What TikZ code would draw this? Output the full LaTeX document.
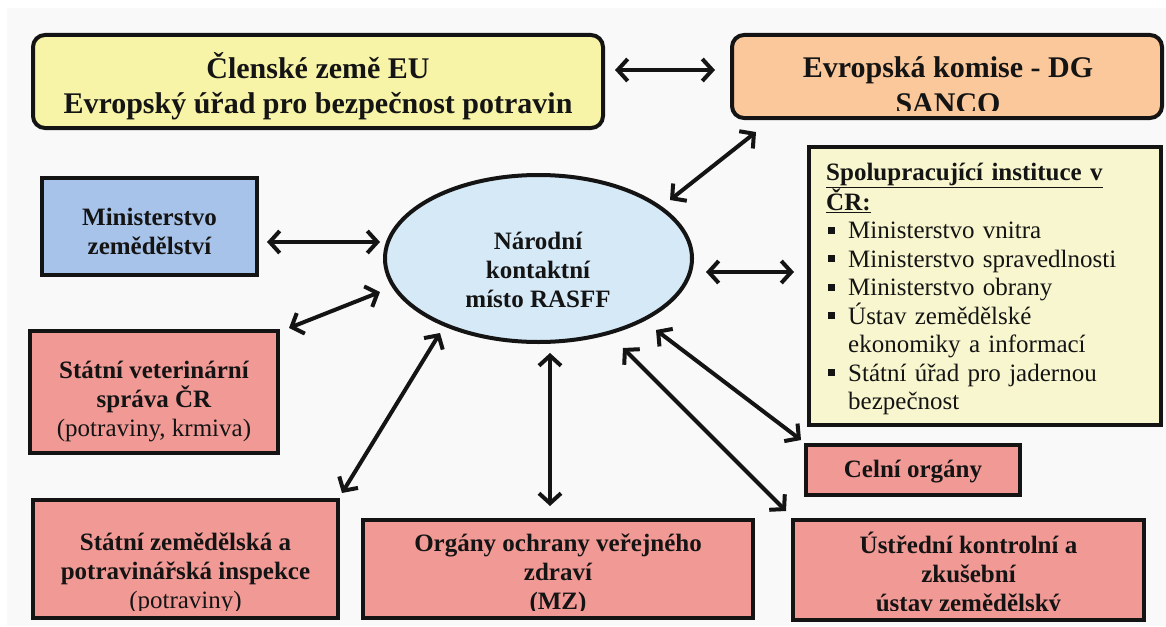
\documentclass[tikz,border=0pt]{standalone}
\usepackage{fontspec}
\setmainfont{Liberation Serif}
\usetikzlibrary{arrows.meta,shapes.geometric}
\definecolor{bgc}{RGB}{249,249,249}
\definecolor{yelc}{RGB}{247,244,168}
\definecolor{orac}{RGB}{250,200,155}
\definecolor{bluc}{RGB}{168,195,234}
\definecolor{ellc}{RGB}{214,233,247}
\definecolor{pinc}{RGB}{240,153,149}
\definecolor{spoc}{RGB}{248,246,206}
\definecolor{inkc}{RGB}{20,20,20}
\newcommand\sqbul{\makebox[22pt][l]{\hspace{2pt}\raisebox{5pt}{\rule{7pt}{7pt}}}}
\tikzset{
  box/.style={draw=inkc, line width=4pt, inner sep=0pt},
  pinkbox/.style={box, fill=pinc},
  bigtxt/.style={font=\fontsize{30}{35.5}\selectfont\bfseries, align=center, inner sep=0pt, text=inkc},
  txtb/.style={font=\fontsize{25}{29}\selectfont\bfseries, align=center, inner sep=0pt, text=inkc},
  link/.style={draw=inkc, line width=4pt, >={Straight Barb[length=10pt,width=22pt]}, <->}
}
\begin{document}
\begin{tikzpicture}[x=1pt,y=-1pt]
\useasboundingbox (0,0) rectangle (1166,626);
\fill[white] (0,0) rectangle (1166,626);
\fill[bgc] (7,8) rectangle (1166,626);

% top boxes
\node[box, rounded corners=12pt, fill=yelc, minimum width=570pt, minimum height=93pt] (eu) at (318,81.5) {};
\node[bigtxt] (eut) at (318,86) {Členské země EU\\Evropský úřad pro bezpečnost potravin};

\node[box, rounded corners=12pt, fill=orac, minimum width=430pt, minimum height=83pt] (sanco) at (947,76.5) {};
\begin{scope}
\clip ([xshift=2pt,yshift=10pt]sanco.south west) rectangle ([xshift=-2pt,yshift=-2pt]sanco.north east);
\node[bigtxt] (sancot) at (948,85) {Evropská komise - DG\\SANCO};
\end{scope}

% left boxes
\node[box, fill=bluc, minimum width=215pt, minimum height=97pt] (mz) at (149.5,226.5) {};
\node[txtb] (mzt) at (149.5,231) {Ministerstvo\\zemědělství};

\node[pinkbox, minimum width=248pt, minimum height=122pt] (svs) at (154,392) {};
\node[txtb] (svst) at (154,402) {Státní veterinární\\správa ČR\\{\mdseries (potraviny, krmiva)}};

% centre ellipse
\node[box, ellipse, fill=ellc, minimum width=307pt, minimum height=167pt] (rasff) at (538.5,258.5) {};
\node[txtb] (rasfft) at (538,270) {Národní\\kontaktní\\místo RASFF};

% bottom boxes
\node[pinkbox, minimum width=305pt, minimum height=118pt] (szpi) at (185.5,559) {};
\begin{scope}
\clip ([xshift=2pt,yshift=10pt]szpi.south west) rectangle ([xshift=-2pt,yshift=-2pt]szpi.north east);
\node[txtb] (szpit) at (185.5,573.5) {Státní zemědělská a\\potravinářská inspekce\\{\mdseries (potraviny)}};
\end{scope}

\node[pinkbox, minimum width=390pt, minimum height=98pt] (oovz) at (558,569) {};
\begin{scope}
\clip ([xshift=2pt,yshift=10pt]oovz.south west) rectangle ([xshift=-2pt,yshift=-2pt]oovz.north east);
\node[txtb] (oovzt) at (558,574.5) {Orgány ochrany veřejného\\zdraví\\(MZ)};
\end{scope}

\node[pinkbox, minimum width=351pt, minimum height=100pt] (ukzuz) at (968.5,570) {};
\begin{scope}
\clip ([xshift=2pt,yshift=12pt]ukzuz.south west) rectangle ([xshift=-2pt,yshift=-2pt]ukzuz.north east);
\node[txtb] (ukzuzt) at (968.5,574) {Ústřední kontrolní a\\zkušební\\ústav zemědělský};
\end{scope}

\node[pinkbox, minimum width=214pt, minimum height=50pt] (celni) at (913,470) {};
\node[txtb] (celnit) at (913,472) {Celní orgány};

% right box
\node[box, fill=spoc, minimum width=352pt, minimum height=278pt] (spol) at (985,286) {};
\node[anchor=base west, inner sep=0pt, text width=330pt, align=left, text=inkc,
      font=\fontsize{25}{28.5}\selectfont] (spolt) at (826,180)
 {\textbf{\underline{Spolupracující instituce v}}\\
  \textbf{\underline{ČR:}}\\
  \sqbul Ministerstvo vnitra\\
  \sqbul Ministerstvo spravedlnosti\\
  \sqbul Ministerstvo obrany\\
  \sqbul Ústav zemědělské\\
  \hspace*{22pt}ekonomiky a informací\\
  \sqbul Státní úřad pro jadernou\\
  \hspace*{22pt}bezpečnost};

% connectors
\draw[link] ([xshift=10pt,yshift=11.5pt]eu.east) -- ([xshift=-15pt,yshift=6.5pt]sanco.west);
\draw[link] ([xshift=131.5pt,yshift=58.5pt]rasff.center) -- ([xshift=26pt,yshift=-12pt]sanco.south west);
\draw[link] ([xshift=-158.5pt,yshift=16.5pt]rasff.center) -- ([xshift=8pt,yshift=-15.5pt]mz.east);
\draw[link] ([xshift=-158.5pt,yshift=-33.5pt]rasff.center) -- ([xshift=9pt,yshift=1pt]svs.north east);
\draw[link] ([xshift=-98.5pt,yshift=-74.5pt]rasff.center) -- ([xshift=2pt,yshift=5pt]szpi.north east);
\draw[link] ([xshift=11.5pt,yshift=-94.5pt]rasff.center) -- ([xshift=-8pt,yshift=12pt]oovz.north);
\draw[link] ([xshift=84.5pt,yshift=-89.5pt]rasff.center) -- ([xshift=-5pt,yshift=7pt]ukzuz.north west);
\draw[link] ([xshift=117.5pt,yshift=-71.5pt]rasff.center) -- ([xshift=-3pt,yshift=3pt]celni.north west);
\draw[link] ([xshift=167.5pt,yshift=-13.5pt]rasff.center) -- ([xshift=-13pt,yshift=14pt]spol.west);
\end{tikzpicture}
\end{document}
